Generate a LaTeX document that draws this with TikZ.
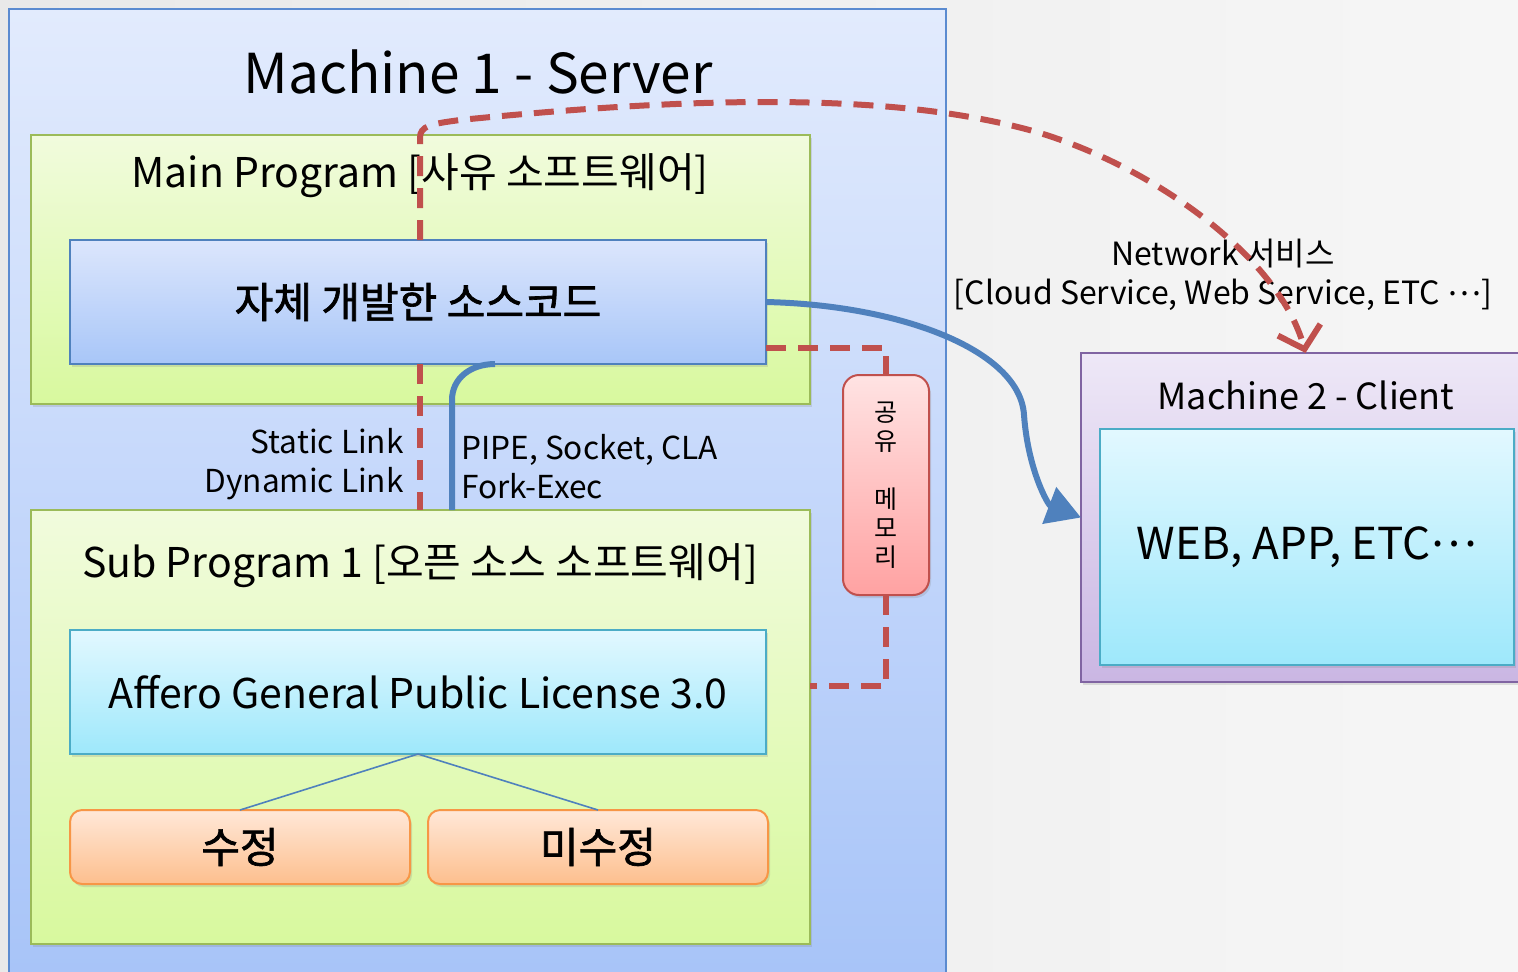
\documentclass[tikz,border=0pt]{standalone}
\usepackage{fontspec}
\setmainfont{Noto Sans CJK KR}
\newfontfamily\krbold[FakeBold=1.6]{Noto Sans CJK KR}
\usetikzlibrary{arrows.meta,fit,shadows,calc}
\definecolor{bgL}{HTML}{E9E9E9}
\definecolor{bgR}{HTML}{F6F6F6}
\definecolor{mOneTop}{HTML}{E2EBFD}
\definecolor{mOneBot}{HTML}{A6C3F8}
\definecolor{mOneLine}{HTML}{5B8BD0}
\definecolor{grTop}{HTML}{F1FBDD}
\definecolor{grBot}{HTML}{D8F99E}
\definecolor{grLine}{HTML}{9BBB59}
\definecolor{blTop}{HTML}{DCE6FC}
\definecolor{blBot}{HTML}{A8C6F8}
\definecolor{blLine}{HTML}{4F81BD}
\definecolor{cyTop}{HTML}{E2F8FF}
\definecolor{cyBot}{HTML}{9EE8FB}
\definecolor{cyLine}{HTML}{4BACC6}
\definecolor{orTop}{HTML}{FFE8D8}
\definecolor{orBot}{HTML}{FDBF8E}
\definecolor{orLine}{HTML}{F79646}
\definecolor{pkTop}{HTML}{FFE3E3}
\definecolor{pkBot}{HTML}{FFA2A2}
\definecolor{pkLine}{HTML}{C0504D}
\definecolor{puTop}{HTML}{EEE8F7}
\definecolor{puBot}{HTML}{CAB6E3}
\definecolor{puLine}{HTML}{8064A2}
\definecolor{redc}{HTML}{C0504D}
\definecolor{bluec}{HTML}{4F81BD}
\newcommand{\mdots}{\raisebox{0.28em}{…}}
\tikzset{
  basebox/.style={draw, line width=1pt, inner sep=0pt, outer sep=0pt},
  shd/.style={drop shadow={opacity=0.22, shadow xshift=1pt, shadow yshift=-1.5pt}},
  monebox/.style={basebox, draw=mOneLine, top color=mOneTop, bottom color=mOneBot},
  greenbox/.style={basebox, shd, draw=grLine, top color=grTop, bottom color=grBot},
  srcbox/.style={basebox, shd, draw=blLine, top color=blTop, bottom color=blBot},
  cyanbox/.style={basebox, shd, draw=cyLine, top color=cyTop, bottom color=cyBot},
  orbox/.style={basebox, shd, draw=orLine, top color=orTop, bottom color=orBot, rounded corners=6pt},
  pinkbox/.style={basebox, shd, draw=pkLine, top color=pkTop, bottom color=pkBot, rounded corners=8pt},
  purplebox/.style={basebox, shd, draw=puLine, top color=puTop, bottom color=puBot},
  reddash/.style={draw=redc, line width=3pt, dash pattern=on 10pt off 6pt},
  bluecon/.style={draw=bluec, line width=3pt},
  treeline/.style={draw=bluec, line width=0.8pt},
  lbl/.style={inner sep=0pt, text=black},
  smalltxt/.style={font=\fontsize{15.8pt}{19.5pt}\selectfont},
}
\begin{document}
\begin{tikzpicture}[x=0.5pt,y=-0.5pt]
\useasboundingbox (0,0) rectangle (1518,971);
\clip (0,0) rectangle (1518,971);
\shade[left color=bgL, right color=bgR] (0,0) rectangle (1518,971);
% Machine 1
\node[monebox, fit={(9,9)(946,1000)}] (m1) {};
\node[lbl, font=\fontsize{27.5pt}{32pt}\selectfont] (m1t) at (478,72) {Machine 1 - Server};
% main program
\node[greenbox, fit={(31,135)(810,404)}] (mainp) {};
\node[lbl, font=\fontsize{20.5pt}{24pt}\selectfont] (mainpt) at (420,176) {Main Program [사유 소프트웨어]};
\node[srcbox, minimum width=348pt, minimum height=62pt, font=\fontsize{21pt}{25pt}\krbold] (src) at (418,302) {자체 개발한 소스코드};
% sub program
\node[greenbox, fit={(31,510)(810,944)}] (sub) {};
\node[lbl, font=\fontsize{20.5pt}{24pt}\selectfont] (subt) at (420,566) {Sub Program 1 [오픈 소스 소프트웨어]};
\node[cyanbox, minimum width=348pt, minimum height=62pt, font=\fontsize{20.5pt}{24pt}\selectfont] (aff) at (418,692) {Affero General Public License 3.0};
\node[orbox, minimum width=170pt, minimum height=37pt, font=\fontsize{21pt}{25pt}\krbold] (sj) at (240,847) {수정};
\node[orbox, minimum width=170pt, minimum height=37pt, font=\fontsize{21pt}{25pt}\krbold] (mj) at (598,847) {미수정};
% shared memory
\node[pinkbox, minimum width=43pt, minimum height=110pt, align=center, font=\fontsize{12.5pt}{14.5pt}\selectfont] (shm) at (886,485)
  {공\\유\\[14.5pt]메\\모\\리};
% link labels
\node[lbl, smalltxt, anchor=east, align=right] (links) at (404,464) {Static Link\\Dynamic Link};
\node[lbl, smalltxt, anchor=west, align=left] (ipc) at (461,467) {PIPE, Socket, CLA\\Fork-Exec};
% Machine 2
\node[purplebox, fit={(1081,353)(1530,682)}] (m2) {};
\node[lbl, font=\fontsize{18pt}{22pt}\selectfont] (m2t) at (1306,395) {Machine 2 - Client};
\node[cyanbox, minimum width=207pt, minimum height=118pt, font=\fontsize{22pt}{26pt}\selectfont] (web) at (1307,547) {WEB, APP, ETC\mdots};
% network label
\node[lbl, font=\fontsize{16pt}{19.5pt}\selectfont, align=center] (net) at (1223,275)
  {Network 서비스\\{}[Cloud Service, Web Service, ETC \mdots]};
% tree lines
\draw[treeline] (aff.south) -- (sj.north);
\draw[treeline] (aff.south) -- (mj.north);
% helper coordinates on the box edges
\coordinate (srcS) at ([xshift=175pt]src.south west);
\coordinate (srcN) at ([xshift=175pt]src.north west);
\coordinate (srcB) at ([xshift=212.5pt]src.south west);
\coordinate (subB) at ([xshift=210.5pt]sub.north west);
\coordinate (srcR) at ([yshift=8pt]src.south east);
\coordinate (subR) at ([yshift=3pt]aff.east -| sub.east);
% blue connectors
\draw[bluecon] (subB) -- ++(0,-110)
  .. controls ++(0,-22) and ++(-24,0) .. (srcB);
\draw[bluecon, -{Triangle[length=17pt,width=19pt]}] (src.east)
  .. controls (900,305) and (1020,350) .. (1024,415)
  .. controls (1028,470) and (1048,505) .. (m2.west);
% red dashed connectors
\draw[reddash] (srcS) -- (sub.north -| srcS);
\draw[reddash, -{Straight Barb[length=10pt,width=22pt,line width=3pt]}] (srcN) -- (420,138)
  .. controls (420,126) and (430,124) .. (460,120)
  .. controls (700,96) and (900,92) .. (1040,133)
  .. controls (1160,170) and (1280,260) .. (m2.north);
\draw[reddash] (srcR) -| (shm.north);
\draw[reddash] (shm.south) |- (subR);
\end{tikzpicture}
\end{document}
